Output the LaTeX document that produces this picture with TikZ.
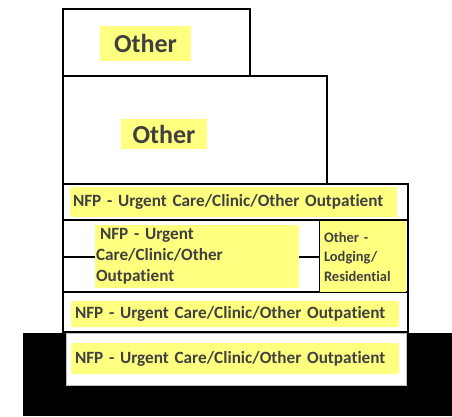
\documentclass[tikz,border=0pt]{standalone}
\usepackage{fontspec}
\setmainfont{Carlito}[Ligatures=CommonOff]
\usetikzlibrary{positioning}
\definecolor{inkC}{HTML}{404040}
\definecolor{hiliteC}{HTML}{FFFF80}
\definecolor{edgeC}{HTML}{BFBFBF}
\tikzset{
  flr/.style={rectangle, draw=black, line width=2.8pt, inner sep=0pt, outer sep=0pt},
  lblY/.style={rectangle, fill=hiliteC, inner ysep=0pt, outer sep=0pt, text=inkC, font=\bfseries},
  bigT/.style={lblY, font=\bfseries\fontsize{26}{30}\selectfont, inner xsep=0pt},
  rowT/.style={lblY, font=\bfseries\fontsize{17.2}{21}\selectfont, align=left},
  sideT/.style={lblY, font=\bfseries\fontsize{14.5}{19.5}\selectfont, align=left},
  tie/.style={draw=black, line width=2pt}
}
\begin{document}
\begin{tikzpicture}[x=1pt, y=-1pt]
  \useasboundingbox (0,0) rectangle (452,416);
  % ── Ground ──
  \fill[black] (23,333) rectangle (452,416);
  \node[rectangle, fill=white, draw=edgeC, line width=1pt, inner sep=0pt, minimum width=340pt, minimum height=52pt] (base) at (236,359) {};

  % ── Floors ──
  \node[flr, minimum width=187pt, minimum height=67pt] (roof) at (156.5,42.5) {};
  \node[flr, minimum width=264pt, minimum height=108pt] (upper) at (195,130) {};
  \node[flr, minimum width=345pt, minimum height=36pt] (rowA) at (235.5,202) {};
  \node[flr, minimum width=345pt, minimum height=72pt] (rowB) at (235.5,256) {};
  \node[flr, minimum width=88pt, minimum height=72pt] (wing) at (364,256) {};
  \node[flr, minimum width=345pt, minimum height=40pt] (rowC) at (235.5,312) {};

  % ── Labels ──
  \node[bigT, minimum width=91pt, minimum height=35pt] (lblRoof) at (145.5,43.5) {Other};
  \node[bigT, minimum width=86pt, minimum height=30pt] (lblUpper) at (164,134) {Other};
  \node[rowT, inner xsep=3pt, text width=321pt, minimum height=30pt] (lblA) at (233.5,202) {NFP - Urgent Care/Clinic/Other Outpatient};
  \node[rowT, inner xsep=1pt, text width=202pt, minimum height=63pt] (lblB) at (197,256.5) {\hspace{4pt}NFP - Urgent\\Care/Clinic/Other\\Outpatient};
  \node[sideT, inner xsep=4pt, text width=78pt, minimum height=71pt] (lblWing) at (363,256.5) {Other -\\Lodging/\\Residential};
  \node[rowT, rounded corners=2pt, inner xsep=4pt, text width=320pt, minimum height=26pt] (lblC) at (235,314) {NFP - Urgent Care/Clinic/Other Outpatient};
  \node[rowT, rounded corners=2pt, inner xsep=4pt, text width=320pt, minimum height=31pt] (lblD) at (235,358.5) {NFP - Urgent Care/Clinic/Other Outpatient};

  % ── Ties ──
  \draw[tie] (rowB.west |- lblB.west) -- (lblB.west);
  \draw[tie] (lblB.east) -- (wing.west |- lblB.east);
\end{tikzpicture}
\end{document}
